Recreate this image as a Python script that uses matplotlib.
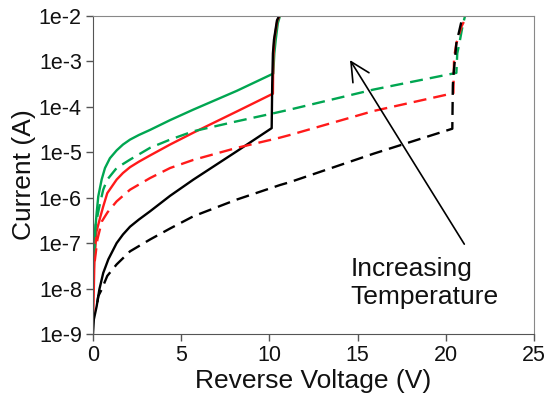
import numpy as np
import matplotlib
matplotlib.use('Agg')
from matplotlib import pyplot as plt

# readings (V, A)
v_green = [0.03, 0.1, 0.21, 0.3, 0.49, 0.68, 0.96, 1.34, 1.7, 2.1, 2.6, 3.23, 4.37, 5.69, 8.15, 10.22,
           10.28, 10.36, 10.48, 10.6]
i_green = [1.5e-8, 1.5e-7, 4.7e-7, 1.07e-6, 2.5e-6, 4.5e-6, 7.4e-6, 1.1e-5, 1.48e-5, 1.9e-5, 2.4e-5, 3.1e-5,
           5.1e-5, 8.7e-5, 2.25e-4, 5.4e-4, 1.5e-3, 3e-3, 7e-3, 1e-2]

v_red = [0.02, 0.08, 0.2, 0.4, 0.58, 0.81, 1.34, 1.7, 2.1, 2.6, 3.23, 4.37, 5.69, 8.15, 10.2,
         10.22, 10.28, 10.45, 10.58]
i_red = [3e-9, 4e-8, 1.8e-7, 3.6e-7, 6.4e-7, 1.26e-6, 2.5e-6, 3.5e-6, 4.7e-6, 6.2e-6, 8.5e-6, 1.48e-5, 2.7e-5,
         7.9e-5, 1.95e-4, 1.2e-3, 3e-3, 8e-3, 1e-2]

v_black = [0.0, 0.05, 0.21, 0.36, 0.58, 0.87, 1.34, 1.7, 2.1, 2.6, 3.23, 4.37, 5.69, 8.15, 10.13,
           10.16, 10.2, 10.26, 10.43, 10.55]
i_black = [1e-9, 2.1e-9, 4.1e-9, 9.5e-9, 2.2e-8, 4.4e-8, 1e-7, 1.55e-7, 2.3e-7, 3.3e-7, 5e-7, 1.1e-6, 2.5e-6,
           1.05e-5, 3.4e-5, 3e-4, 1.5e-3, 3e-3, 8e-3, 1e-2]

v_green_d = [0.06, 0.15, 0.36, 0.58, 0.81, 1.34, 2.1, 3.23, 4.37, 5.69, 8.15, 10.22, 11.16, 15.9, 20.6,
             20.65, 20.77, 20.95, 21.09]
i_green_d = [5e-8, 2.5e-7, 6.4e-7, 1.5e-6, 2.5e-6, 4.5e-6, 6.9e-6, 1.25e-5, 1.9e-5, 2.9e-5, 4.8e-5, 7.2e-5,
             8.7e-5, 2.4e-4, 5.6e-4, 1.5e-3, 2.5e-3, 6e-3, 1e-2]

v_red_d = [0.1, 0.25, 0.5, 0.83, 1.34, 2.1, 3.23, 4.37, 5.69, 8.15, 10.6, 11.16, 15.9, 20.43,
           20.47, 20.6, 20.9, 21.2]
i_red_d = [4e-8, 1.2e-7, 3e-7, 4.8e-7, 8.3e-7, 1.5e-6, 2.7e-6, 4.5e-6, 6.8e-6, 1.25e-5, 2.1e-5, 2.4e-5,
           8.1e-5, 2.0e-4, 1.2e-3, 2.5e-3, 6e-3, 1e-2]

v_black_d = [0.25, 0.3, 0.49, 0.81, 1.34, 2.1, 3.23, 4.37, 5.69, 8.15, 10.6, 11.16, 15.9, 20.37,
             20.4, 20.43, 20.6, 20.9, 21.0]
i_black_d = [5e-9, 6.8e-9, 9.5e-9, 1.9e-8, 3.4e-8, 6.6e-8, 1.2e-7, 2.1e-7, 3.9e-7, 9.1e-7, 1.9e-6, 2.2e-6,
             9.3e-6, 3.3e-5, 3e-4, 4.7e-4, 2.5e-3, 8e-3, 1e-2]

y_ticks = [1e-9, 1e-8, 1e-7, 1e-6, 1e-5, 1e-4, 1e-3, 1e-2]
y_labels = ['1e-9', '1e-8', '1e-7', '1e-6', '1e-5', '1e-4', '1e-3', '1e-2']
x_ticks = [0, 5, 10, 15, 20, 25]

green = '#00a651'
red = '#ff1a1a'
lw = 1.7
dash = (5.5, 3)

plt.rcParams['font.family'] = ['Liberation Sans', 'DejaVu Sans']

fig = plt.figure(figsize=(5.46, 3.96), dpi=100)
ax = fig.add_axes([0.1703, 0.1566, 0.8077, 0.803])

ax.plot(v_green, i_green, color=green, lw=lw)
ax.plot(v_red, i_red, color=red, lw=lw)
ax.plot(v_black, i_black, color='black', lw=lw)
ax.plot(v_green_d, i_green_d, color=green, lw=lw, dashes=dash)
ax.plot(v_red_d, i_red_d, color=red, lw=lw, dashes=dash)
ax.plot(v_black_d, i_black_d, color='black', lw=lw, dashes=dash)

ax.set_yscale('log')
ax.set_xlim(0, 25)
ax.set_ylim(1e-9, 1e-2)
ax.set_yticks(y_ticks)
ax.set_yticklabels(y_labels)
ax.minorticks_off()
ax.set_xticks(x_ticks)
ax.tick_params(axis='both', direction='out', length=5, width=1, labelsize=15.5, colors='#555555',
               labelcolor='#111111', pad=3)

for s in ['left', 'bottom']:
    ax.spines[s].set_color('#555555')
for s in ['top', 'right']:
    ax.spines[s].set_color('#888888')

ax.set_xlabel('Reverse Voltage (V)', fontsize=19, color='#111111', labelpad=2)
ax.set_ylabel('Current (A)', fontsize=19, color='#111111', labelpad=2)

ax.annotate('', xy=(14.57, 1.07e-3), xytext=(21.05, 9.5e-8),
            arrowprops=dict(arrowstyle='->', color='black', lw=1.2, mutation_scale=34,
                            shrinkA=0, shrinkB=0))
ax.text(14.6, 1.35e-8, 'Increasing\nTemperature', fontsize=19, color='#111111', va='center', ha='left',
        linespacing=1.2)

fig.savefig('out.png', dpi=100)
